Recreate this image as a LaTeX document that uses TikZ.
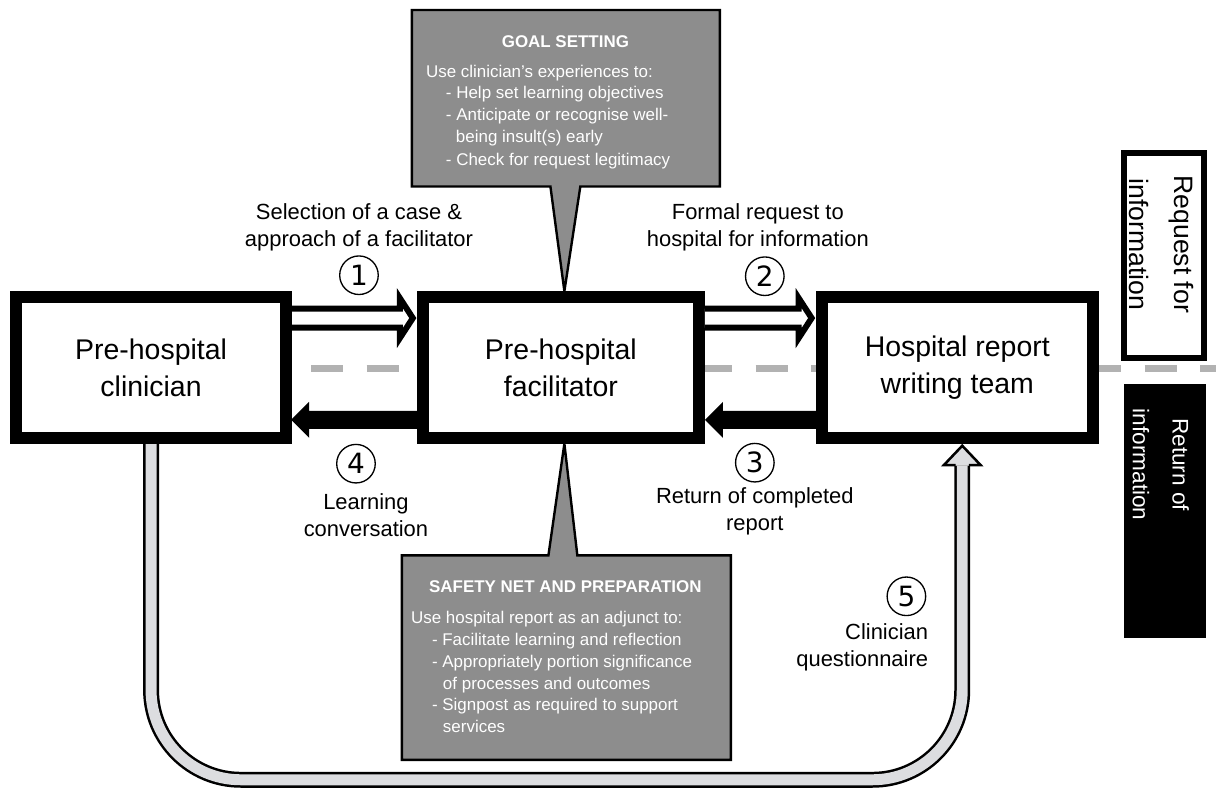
\documentclass[tikz,border=0pt]{standalone}
\usepackage{fontspec}
\setmainfont{Liberation Sans}
\newfontfamily\djv{DejaVu Sans}
\usetikzlibrary{calc}
\pgfdeclarelayer{bgzero}
\pgfdeclarelayer{bgone}
\pgfsetlayers{bgzero,bgone,main}
\definecolor{callgray}{RGB}{141,141,141}
\definecolor{dashgray}{RGB}{178,178,178}
\definecolor{loopgray}{RGB}{220,221,224}
\tikzset{
  mainbox/.style={draw=black, fill=white, line width=9pt, inner sep=0pt, outer sep=0pt,
    minimum height=105.75pt, align=center, font=\fontsize{21.4pt}{27.75pt}\selectfont},
  lbl/.style={align=center, font=\fontsize{16.5pt}{20.25pt}\selectfont, inner sep=0pt},
  num/.style={circle, draw=black, line width=1pt, minimum size=29pt, inner sep=0pt,
    font=\djv\fontsize{21pt}{21pt}\selectfont},
  callout/.style={draw=black, fill=callgray, line width=1.8pt, line join=miter},
  calltext/.style={text=white, inner sep=0pt, anchor=base west, font=\fontsize{12.75pt}{16.5pt}\selectfont},
  calltitle/.style={text=white, inner sep=0pt, anchor=base, font=\bfseries\fontsize{12.75pt}{16.5pt}\selectfont},
  openarr/.style={draw=black, fill=white, line width=4.5pt, line join=miter},
  fillarr/.style={fill=black},
  loopouter/.style={draw=black, line width=12pt, rounded corners=67.5pt},
  loopinner/.style={draw=loopgray, line width=8.25pt, rounded corners=67.5pt},
  loophead/.style={draw=black, fill=loopgray, line width=1.9pt, line join=miter},
  dashline/.style={draw=dashgray, line width=5.25pt, dash pattern=on 24pt off 17.8pt},
  reqtxt/.style={rotate=-90, anchor=base, inner sep=0pt, font=\fontsize{20pt}{20pt}\selectfont},
  rettxt/.style={rotate=-90, anchor=base, inner sep=0pt, text=white, font=\fontsize{17pt}{17pt}\selectfont}
}
\begin{document}
\begin{tikzpicture}[x=0.75pt,y=-0.75pt]
\begin{pgfonlayer}{bgzero}
\path[use as bounding box, fill=white] (0,0) rectangle (1219,789);
\end{pgfonlayer}

% main boxes
\node[mainbox, minimum width=203.25pt] (clin) at (151.5,368.5) {Pre-hospital\\clinician};
\node[mainbox, minimum width=207.75pt] (fac) at (562.5,368.5) {Pre-hospital\\facilitator};
\node[mainbox, minimum width=204pt] (hosp) at (960,368.5) {Hospital report\\writing team};

% side boxes
\node[draw=black, fill=white, line width=4.5pt, inner sep=0pt, minimum width=60pt, minimum height=154.5pt] (req) at (1167,256) {};
\node[reqtxt] (reqa) at (1178,245) {Request for};
\node[reqtxt] (reqb) at (1133,245) {information};
\node[fill=black, inner sep=0pt, minimum width=61.5pt, minimum height=191.25pt] (ret) at (1168,512.5) {};
\node[rettxt] (reta) at (1176,466) {Return of};
\node[rettxt] (retb) at (1136,466) {information};

% background: dashed line and feedback loop
\begin{pgfonlayer}{bgone}
\coordinate (dstart) at ($(clin.east)+(25,1.5)$);
\coordinate (dend) at (1219,370);
\draw[dashline] (dstart) -- (dend);
\coordinate (L1) at (clin.south);
\coordinate (L2) at ($(hosp.south)+(5,0)$);
\coordinate (Lb) at (0,782);
\draw[loopouter] (L1) -- (L1 |- Lb) -- (L2 |- Lb) -- ($(L2)+(0,28)$);
\draw[loopinner] (L1) -- (L1 |- Lb) -- (L2 |- Lb) -- ($(L2)+(0,28)$);
\path[loophead] ($(L2)+(-6.75,27.5)$) -- ($(L2)+(-18.5,27.5)$) -- ($(L2)+(0,8)$) -- ($(L2)+(18.5,27.5)$) -- ($(L2)+(6.75,27.5)$);
\end{pgfonlayer}

% open arrows (requests)
\coordinate (oa1) at ($(clin.east)+(6,-49.5)$);
\path[openarr, shift={(oa1)}] (0,-9.5) -- (108,-9.5) -- (108,-20) -- (121,0) -- (108,20) -- (108,9.5) -- (0,9.5);
\coordinate (oa2) at ($(fac.east)+(6,-49.5)$);
\path[openarr, shift={(oa2)}] (0,-9.5) -- (94,-9.5) -- (94,-20) -- (107,0) -- (94,20) -- (94,9.5) -- (0,9.5);

% filled arrows (returns)
\coordinate (fa1) at ($(fac.west)+(0,52.5)$);
\fill[fillarr, shift={(fa1)}] (0,-9) -- (-114,-9) -- (-114,-18) -- (-132,0) -- (-114,18) -- (-114,9) -- (0,9) -- cycle;
\coordinate (fa2) at ($(hosp.west)+(0,52.5)$);
\fill[fillarr, shift={(fa2)}] (0,-9) -- (-99,-9) -- (-99,-18) -- (-117,0) -- (-99,18) -- (-99,9) -- (0,9) -- cycle;

% callouts
\coordinate (gtip) at ($(fac.north)+(3.5,-6)$);
\path[callout] (413,10) -- (722,10) -- (722,187) -- (582,187) -- (gtip) -- (552,187) -- (413,187) -- cycle;
\node[calltitle] (g0) at (567,48) {GOAL SETTING};
\node[calltext] (g1) at (427,78) {Use clinician’s experiences to:};
\node[calltext] (g2) at (447,99) {- Help set learning objectives};
\node[calltext] (g3) at (447,121) {- Anticipate or recognise well-};
\node[calltext] (g4) at (457,143) {being insult(s) early};
\node[calltext] (g5) at (447,166) {- Check for request legitimacy};

\coordinate (stip) at ($(fac.south)+(3.5,6)$);
\path[callout] (403,557) -- (550,557) -- (stip) -- (579,557) -- (733,557) -- (733,762) -- (403,762) -- cycle;
\node[calltitle] (s0) at (567,594) {SAFETY NET AND PREPARATION};
\node[calltext] (s1) at (412,625) {Use hospital report as an adjunct to:};
\node[calltext] (s2) at (433,647) {- Facilitate learning and reflection};
\node[calltext] (s3) at (433,669) {- Appropriately portion significance};
\node[calltext] (s4) at (444,691) {of processes and outcomes};
\node[calltext] (s5) at (433,713) {- Signpost as required to support};
\node[calltext] (s6) at (444,735) {services};

% labels and numbers
\node[lbl] (lab1) at (360,228) {Selection of a case \&\\approach of a facilitator};
\node[lbl] (lab2) at (760,228) {Formal request to\\hospital for information};
\node[lbl] (lab3) at (757,513) {Return of completed\\report};
\node[lbl] (lab4) at (367,517) {Learning\\conversation};
\node[lbl, align=right, anchor=east] (lab5) at (931,649) {Clinician\\questionnaire};
\node[num] (n1) at (360,276) {1};
\node[num] (n2) at (767,277) {2};
\node[num] (n3) at (757,464) {3};
\node[num] (n4) at (357,465) {4};
\node[num] (n5) at (909,598) {5};
\end{tikzpicture}
\end{document}
